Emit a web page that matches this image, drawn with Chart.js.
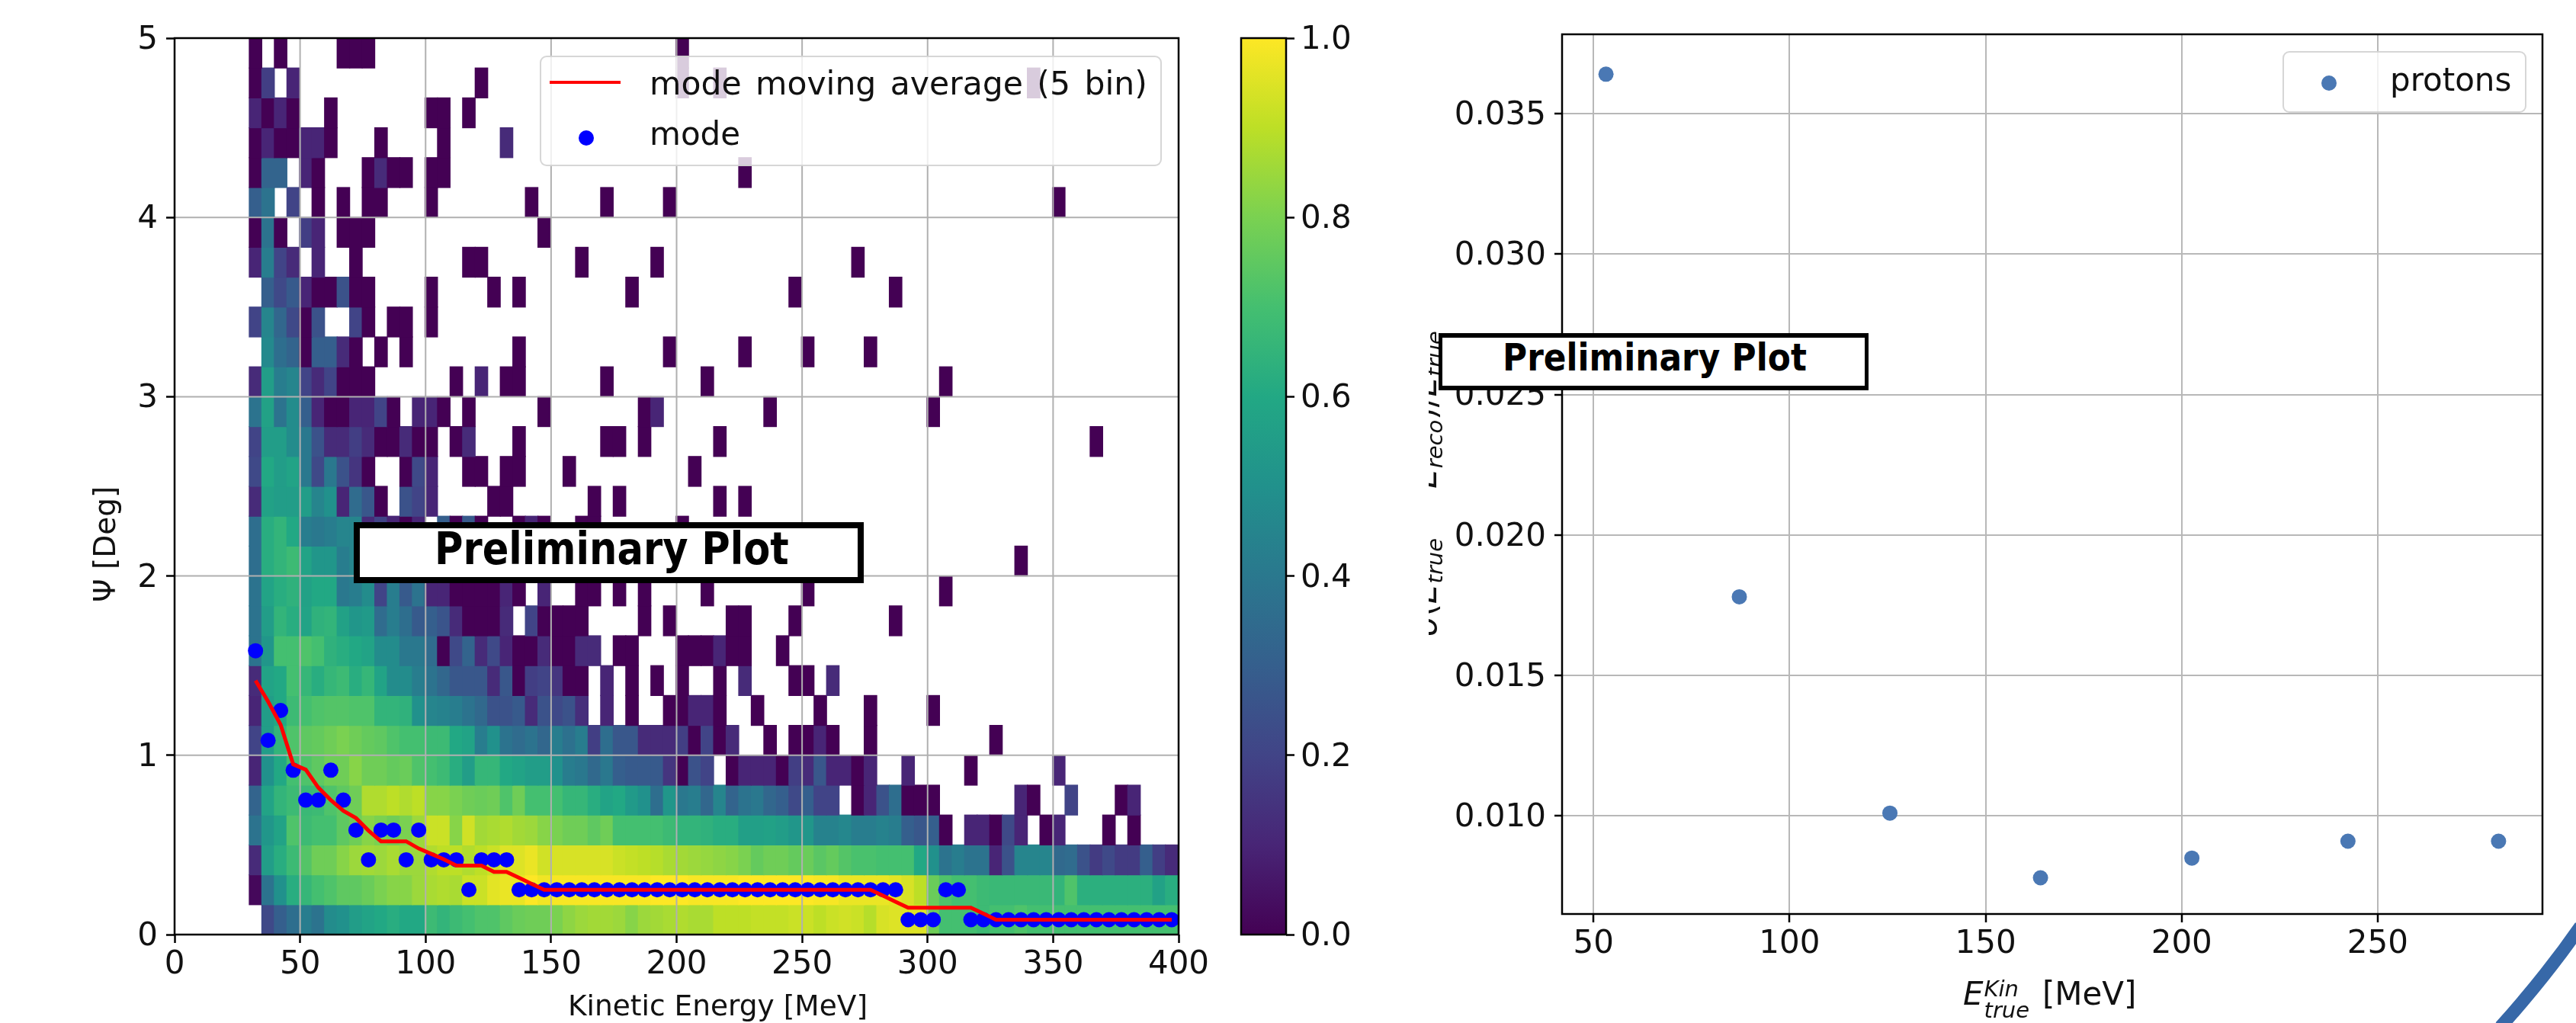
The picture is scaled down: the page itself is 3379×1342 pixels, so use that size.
<!DOCTYPE html>
<html>
<head>
<meta charset="utf-8">
<title>Preliminary Plot</title>
<script src="https://cdn.jsdelivr.net/npm/chart.js@4/dist/chart.umd.min.js"></script>
<style>
html, body { margin: 0; padding: 0; background: #fff; }
#page { position: relative; width: 3379px; height: 1342px; overflow: hidden; font-family: "DejaVu Sans", sans-serif; color: #000; }
canvas { position: absolute; top: 0; }
#grafico { left: 0; filter: blur(0.6px); }
#barra { left: 1600px; filter: blur(0.6px); }
#grafico2 { left: 1900px; }
.txt { position: absolute; white-space: nowrap; font-size: 42px; line-height: 50px; color: #111; }
.legenda { position: absolute; box-sizing: border-box; background: rgba(255,255,255,0.8); border: 2.5px solid rgba(204,204,204,0.8); border-radius: 9px; }
.ponto { position: absolute; border-radius: 50%; }
.aviso { position: absolute; box-sizing: border-box; background: #fff; border-style: solid; border-color: #000; }
.aviso span { position: absolute; white-space: nowrap; font-weight: bold; color: #000; transform-origin: 0 0; }
i sub, .txt sub { font-size: 29px; vertical-align: -8px; line-height: 0; }
#tituloY2 { position: absolute; left: 1874px; top: 380px; width: 30px; height: 480px; overflow: hidden; }
#tituloY2 div { position: absolute; white-space: nowrap; font-size: 42px; line-height: 50px; left: -29px; top: 455px; transform-origin: 0 0; transform: rotate(-90deg); color: #111; }
.menos { margin: 0 15px; }
.pilha { display: inline-block; position: relative; width: 64px; height: 10px; }
.pilha i { position: absolute; left: 1px; font-size: 29px; line-height: 30px; }
#arco { position: absolute; left: 0; top: 0; }
</style>
</head>
<body>
<div id="page">
    <canvas id="grafico" width="1600" height="1342"></canvas>
    <canvas id="barra" width="300" height="1342"></canvas>
    <canvas id="grafico2" width="1479" height="1342"></canvas>

    <div class="legenda" style="left:708px;top:73px;width:816px;height:145px"></div>
    <div style="position:absolute;left:721px;top:106px;width:93px;height:4px;background:#f00"></div>
    <div class="ponto" style="left:759px;top:171px;width:20px;height:20px;background:#00f"></div>
    <div class="txt" style="left:852px;top:85px;font-size:42.5px;word-spacing:5px">mode moving average (5 bin)</div>
    <div class="txt" style="left:852px;top:151px">mode</div>

    <div class="legenda" style="left:2994px;top:67px;width:320px;height:81px"></div>
    <div class="ponto" style="left:3045px;top:99px;width:20px;height:20px;background:#4a78b4"></div>
    <div class="txt" style="left:3135px;top:80px">protons</div>

    <div class="txt" style="left:745px;top:1294px;font-size:37.5px">Kinetic Energy [MeV]</div>
    <div class="txt" style="left:113px;top:790px;font-size:39px;transform-origin:0 0;transform:rotate(-90deg)">&Psi; [Deg]</div>

    <div class="txt" style="left:2575px;top:1279px"><i>E</i><span class="pilha"><i style="top:-26px">Kin</i><i style="top:2px">true</i></span> [MeV]</div>
    <div id="tituloY2"><div><i>&sigma;</i>(<i>E<sub>true</sub></i><span class="menos">&minus;</span><i>E<sub>reco</sub></i>)/<i>E<sub>true</sub></i></div></div>

    <div class="aviso" style="left:464px;top:685px;width:669px;height:80px;border-width:8px">
        <span style="left:98px;top:-8px;font-size:59px;line-height:70px;transform:scaleX(0.866)">Preliminary Plot</span>
    </div>
    <div class="aviso" style="left:1887px;top:437px;width:564px;height:75px;border-width:6px 5.5px">
        <span style="left:79px;top:-3px;font-size:49px;line-height:60px;transform:scaleX(0.895)">Preliminary Plot</span>
    </div>

    <svg id="arco" width="3379" height="1342"><path d="M 3385 1215 Q 3340 1280 3280 1347" fill="none" stroke="#3768a8" stroke-width="17"/></svg>
</div>

<script>
const _ = null;

// centro de cada bin de energia (MeV)
const energias = [32.25,37.25,42.25,47.25,52.25,57.25,62.25,67.25,72.25,77.25,
    82.25,87.25,92.25,97.25,102.25,107.25,112.25,117.25,122.25,127.25,
    132.25,137.25,142.25,147.25,152.25,157.25,162.25,167.25,172.25,177.25,
    182.25,187.25,192.25,197.25,202.25,207.25,212.25,217.25,222.25,227.25,
    232.25,237.25,242.25,247.25,252.25,257.25,262.25,267.25,272.25,277.25,
    282.25,287.25,292.25,297.25,302.25,307.25,312.25,317.25,322.25,327.25,
    332.25,337.25,342.25,347.25,352.25,357.25,362.25,367.25,372.25,377.25,
    382.25,387.25,392.25,397.25];

const alturaBinPsi = 5 / 30;

// valores do histograma, linha 0 = Psi mais baixo, grupos de 10 colunas
const linha00 = [_,.22,.3,.36,.42,.38,.48,.5,.55,.58, .6,.62,.6,.6,.68,.65,.68,.7,.72,.72, .75,.77,.78,.78,.8,.83,.85,.86,.86,.85, .82,.85,.86,.87,.88,.87,.87,.9,.9,.9, .91,.91,.91,.92,.92,.9,.92,.93,.92,.89, .94,.95,.95,.95,.78,.7,.7,.7,.68,.7, .7,.72,.7,.7,.7,.7,.7,.7,.7,.7, .7,.7,.7,.7];
const linha01 = [.02,.38,.5,.62,.66,.7,.72,.75,.75,.77, .8,.82,.82,.85,.87,.88,.87,.92,.92,.96, .97,.97,1,.98,.99,.99,.99,.99,.99,.99, .99,.99,1,1,1,.99,.99,.99,.99,1, 1,1,1,1,1,.99,.99,.97,.97,.97, .97,.96,.94,.9,.77,.72,.7,.7,.68,.67, .67,.67,.67,.67,.65,.72,.63,.63,.63,.63, .63,.63,.57,.62];
const linha02 = [.12,.55,.62,.68,.73,.78,.78,.82,.85,.86, .85,.87,.85,.85,.88,.9,.9,.88,.9,.92, .95,.95,.97,.93,.94,.94,.94,.94,.94,.92, .91,.9,.89,.87,.86,.85,.84,.83,.82,.8, .76,.78,.78,.76,.77,.74,.76,.73,.71,.71, .7,.7,.7,.6,.5,.38,.42,.38,.38,.1, .25,.45,.45,.45,.34,.35,.25,.17,.22,.17, .17,.3,.18,.12];
const linha03 = [.38,.52,.58,.72,.68,.7,.7,.75,.78,.82, .8,.78,.8,.85,.92,.92,.82,.93,.86,.87, .88,.86,.85,.82,.8,.78,.78,.75,.78,.7, .7,.7,.7,.68,.65,.65,.64,.62,.62,.56, .56,.57,.55,.52,.52,.44,.44,.46,.42,.42, .44,.42,.3,.27,.3,0,_,.1,.1,0, .22,.1,_,0,.1,_,_,_,0,_, 0];
const linha04 = [.32,.58,.65,.68,.67,.68,.72,.75,.78,.88, .88,.9,.88,.9,.82,.82,.8,.78,.77,.78, .72,.78,.7,.7,.7,.66,.66,.62,.58,.6, .54,.5,.36,.52,.4,.42,.33,.45,.32,.38, .4,.33,.3,.22,.3,.2,.2,_,0,.1, .25,.36,0,0,0,_,_,_,_,_, _,.1,0,_,_,.2,_,_,_,0, .1];
const linha05 = [.1,.5,.6,.7,.72,.75,.78,.78,.82,.78, .78,.76,.77,.72,.7,.68,.62,.55,.66,.66, .6,.58,.55,.55,.5,.42,.4,.34,.4,.3, .28,.28,.28,.15,0,.25,.2,_,0,.1, .1,.1,0,.18,.12,.27,.1,.1,0,.1, _,_,.1,_,_,_,_,0,_,_, _,_,_,_,.1];
const linha06 = [.2,.55,.65,.72,.75,.76,.78,.8,.78,.76, .75,.72,.7,.7,.68,.68,.6,.58,.42,.5, .38,.35,.38,.33,.42,.37,.42,.18,.36,.27, .27,.12,.12,.12,.18,0,.2,0,.12,_, _,0,_,0,0,.1,0,_,_,0, _,_,_,_,_,_,_,_,_,0];
const linha07 = [.1,.55,.6,.68,.7,.72,.73,.73,.72,.72, .65,.65,.64,.5,.45,.44,.42,.38,.34,.25, .25,.28,.12,.25,.22,.25,.13,_,.1,_, 0,_,_,0,0,.1,.1,0,_,_, 0,_,_,_,_,0,_,_,_,0, _,_,_,_,0];
const linha08 = [.12,.58,.6,.7,.66,.62,.66,.68,.62,.66, .58,.48,.48,.42,.38,.33,.27,.27,.27,.12, .27,0,.18,.2,.15,0,0,_,.1,_, 0,_,0,_,0,_,_,0,_,.12, _,_,_,0,0,_,.12];
const linha09 = [.38,.52,.7,.7,.72,.7,.64,.62,.6,.58, .48,.48,.4,.4,.35,0,.22,.32,.12,.22, .1,0,0,.12,0,0,.12,.12,_,0, 0,_,_,_,0,0,0,.1,0,0, _,_,0];
const linha10 = [.38,.55,.65,.62,.58,.64,.65,.57,.52,.54, .35,.42,.36,.28,.3,.26,.12,0,0,0, .12,_,.2,0,0,0,0,_,_,_, _,0,_,0,_,_,_,_,0,0, _,_,_,0,_,_,_,_,_,_, _,0];
const linha11 = [.38,.58,.62,.64,.57,.6,.6,.4,.42,.48, .2,.42,.28,.38,.1,.1,0,0,0,0, .1,0,_,.1,_,_,0,0,_,0, _,0,_,_,_,_,0,_,_,_, _,_,_,_,0,_,_,_,_,_, _,_,_,_,_,0];
const linha12 = [.36,.62,.65,.68,.58,.52,.52,.42,.45,_, _,_,_,_,_,_,_,_,_,_, _,_,_,_,_,_,_,_,_,_, _,_,_,_,_,_,_,_,_,_, _,_,_,_,_,_,_,_,_,_, _,_,_,_,_,_,_,_,_,_, _,0];
const linha13 = [.36,.62,.65,.6,.42,.4,.42,.45,.45,.12, .2,.1,0,.1,_,.3,0,.28,0,_, _,0,.1,0,_,_,0,0,_,_, _,_,_,_,0];
const linha14 = [.12,.57,.55,.55,.55,.45,.5,.1,.35,.27, 0,_,.25,.2,.1,_,_,_,_,0, 0,_,_,_,_,_,_,0,_,0, _,_,_,_,_,_,_,0,_,0];
const linha15 = [.22,.6,.55,.58,.4,.22,.4,.25,.15,0, _,_,0,.22,.1,_,_,0,0,_, 0,0,_,_,_,0,_,_,_,_, _,_,_,_,_,0];
const linha16 = [.2,.55,.55,.48,.4,.25,.12,.12,.18,.12, 0,0,.12,0,0,_,0,.12,_,_, _,0,_,_,_,_,_,_,0,0, _,0,_,_,_,_,_,0,_,_, _,_,_,_,_,_,_,_,_,_, _,_,_,_,_,_,_,_,_,_, _,_,_,_,_,_,_,0];
const linha17 = [.38,.57,.38,.48,.3,.1,0,0,.1,.1, .2,0,_,.1,.1,0,_,0,_,_, _,_,_,0,_,_,_,_,_,_, _,0,.1,_,_,_,_,_,_,_, _,0,_,_,_,_,_,_,_,_, _,_,_,_,0];
const linha18 = [.12,.55,.42,.45,.2,.12,.2,0,0,0, _,_,_,_,_,_,0,_,.1,_, 0,0,_,_,_,_,_,_,0,_, _,_,_,_,_,_,0,_,_,_, _,_,_,_,_,_,_,_,_,_, _,_,_,_,_,0];
const linha19 = [_,.47,.36,.32,0,.3,.3,.12,0,_, 0,_,0,_,_,_,_,_,_,_, _,0,_,_,_,_,_,_,_,_, _,_,_,0,_,_,_,_,_,0, _,_,_,_,0,_,_,_,_,0];
const linha20 = [.2,.45,.33,.22,0,.25,_,_,.2,0, _,0,0,_,0];
const linha21 = [_,.3,.22,.28,.1,0,0,.25,0,0, _,_,_,_,0,_,_,_,_,0, _,0,_,_,_,_,_,_,_,_, 0,_,_,_,_,_,_,_,_,_, _,_,_,0,_,_,_,_,_,_, _,0];
const linha22 = [.1,.42,.2,.12,_,.1,_,_,0,_, _,_,_,_,_,_,_,0,0,_, _,_,_,_,_,_,0,_,_,_, _,_,0,_,_,_,_,_,_,_, _,_,_,_,_,_,_,_,0];
const linha23 = [0,.38,0,_,.18,.1,_,0,0,0, _,_,_,_,_,_,_,_,_,_, _,_,_,0];
const linha24 = [.3,.38,_,.2,_,0,_,0,_,0, 0,_,_,_,0,_,_,_,_,_, _,_,0,_,_,_,_,_,0,_, _,_,_,0,_,_,_,_,_,_, _,_,_,_,_,_,_,_,_,_, _,_,_,_,_,_,_,_,_,_, _,_,_,_,0];
const linha25 = [0,.32,.32,_,.1,0,_,_,_,0, .12,0,0,_,0,0,_,_,_,_, _,_,_,_,_,_,_,_,_,_, _,_,_,_,_,_,_,_,_,0];
const linha26 = [0,.1,0,0,.1,.1,0,_,_,_, 0,_,_,_,_,0,_,_,_,_, .12];
const linha27 = [.1,0,.1,0,_,_,0,_,_,_, _,_,_,_,0,0,_,0];
const linha28 = [0,.18,_,.1,_,_,_,_,_,_, _,_,_,_,_,_,_,_,0,_, _,_,_,_,_,_,_,_,_,_, _,_,_,_,0,_,_,0,_,_, _,_,_,_,_,_,_,_,_,_, _,_,_,_,_,_,_,_,_,_, _,_,0];
const linha29 = [0,_,0,_,_,_,_,0,0,0, _,_,_,_,_,_,_,_,_,_, _,_,_,_,_,_,_,_,_,_, _,_,_,_,0];

const linhas = [linha00,linha01,linha02,linha03,linha04,linha05,linha06,linha07,linha08,linha09,
    linha10,linha11,linha12,linha13,linha14,linha15,linha16,linha17,linha18,linha19,
    linha20,linha21,linha22,linha23,linha24,linha25,linha26,linha27,linha28,linha29];

// moda de cada bin e a media movel
const moda = [1.583,1.083,1.25,.917,.75,.75,.917,.75,.583,.417,
    .583,.583,.417,.583,.417,.417,.417,.25,.417,.417,
    .417,.25,.25,.25,.25,.25,.25,.25,.25,.25,
    .25,.25,.25,.25,.25,.25,.25,.25,.25,.25,
    .25,.25,.25,.25,.25,.25,.25,.25,.25,.25,
    .25,.25,.083,.083,.083,.25,.25,.083,.083,.083,
    .083,.083,.083,.083,.083,.083,.083,.083,.083,.083,
    .083,.083,.083,.083];
const mediaMovel = [1.417,1.3,1.17,.95,.92,.82,.75,.69,.65,.58,
    .52,.52,.52,.48,.45,.42,.385,.385,.385,.35,
    .35,.317,.283,.25,.25,.25,.25,.25,.25,.25,
    .25,.25,.25,.25,.25,.25,.25,.25,.25,.25,
    .25,.25,.25,.25,.25,.25,.25,.25,.25,.25,
    .217,.183,.15,.15,.15,.15,.15,.15,.117,.083,
    .083,.083,.083,.083,.083,.083,.083,.083,.083,.083,
    .083,.083,.083,.083];

// painel da direita
const energiaProtons = [53.2, 87.2, 125.6, 164, 202.6, 242.4, 280.8];
const resolucaoProtons = [.0364, .0178, .0101, .0078, .0085, .0091, .0091];
const ticksEnergiaProtons = [50, 100, 150, 200, 250];

const viridis = ['#440154','#482576','#414487','#355f8d','#2a788e','#21918c','#22a884','#44bf70','#7ad151','#bddf26','#fde725'];

function corViridis(v) {
    const p = Math.min(v, 1) * (viridis.length - 1);
    const i = Math.min(Math.floor(p), viridis.length - 2);
    const f = p - i;
    const a = viridis[i], b = viridis[i + 1];
    let saida = [];
    for (let k = 1; k < 7; k += 2) {
        const ca = parseInt(a.substr(k, 2), 16), cb = parseInt(b.substr(k, 2), 16);
        saida.push(Math.round(ca + (cb - ca) * f));
    }
    return 'rgb(' + saida.join(',') + ')';
}

function montarCelulas() {
    const celulas = [];
    for (let r = 0; r < linhas.length; r++) {
        for (let c = 0; c < linhas[r].length; c++) {
            if (linhas[r][c] !== null) {
                celulas.push({ x: energias[c], y: [r * alturaBinPsi, (r + 1) * alturaBinPsi], v: linhas[r][c] });
            }
        }
    }
    return celulas;
}

function juntar(xs, ys) {
    return xs.map(function (x, i) { return { x: x, y: ys[i] }; });
}

const fonteTicks = { family: 'DejaVu Sans', size: 42 };

// tira a margem extra dos rotulos para a area do grafico ficar exata
function fixarEixo(tamanho) {
    return function (eixo) {
        if (eixo.isHorizontal()) {
            eixo.height = tamanho;
        } else {
            eixo.width = tamanho;
            // o "middle" do canvas fica um pouco alto, desce os rotulos do eixo y
            if (!eixo.rotuloAjustado) {
                const desenhar = eixo.drawLabels;
                eixo.drawLabels = function (area) {
                    eixo.ctx.save();
                    eixo.ctx.translate(0, 3);
                    desenhar.call(eixo, area);
                    eixo.ctx.restore();
                };
                eixo.rotuloAjustado = true;
            }
        }
        eixo.paddingTop = 0; eixo.paddingBottom = 0; eixo.paddingLeft = 0; eixo.paddingRight = 0;
    };
}

// moldura preta nos quatro lados
const moldura = {
    id: 'moldura',
    afterDatasetsDraw: function (chart) {
        const a = chart.chartArea, ctx = chart.ctx;
        ctx.save();
        ctx.strokeStyle = '#000';
        ctx.lineWidth = 2.5;
        ctx.strokeRect(a.left, a.top, a.right - a.left, a.bottom - a.top);
        ctx.restore();
    }
};

// grade por cima do histograma e por baixo dos pontos
const gradeSobreHist = {
    id: 'gradeSobreHist',
    afterDatasetDraw: function (chart, args) {
        if (args.index !== 0) return;
        const a = chart.chartArea, ctx = chart.ctx;
        ctx.save();
        ctx.strokeStyle = '#b0b0b0';
        ctx.lineWidth = 2;
        chart.scales.x.ticks.forEach(function (t) {
            const px = chart.scales.x.getPixelForValue(t.value);
            ctx.beginPath(); ctx.moveTo(px, a.top); ctx.lineTo(px, a.bottom); ctx.stroke();
        });
        chart.scales.y.ticks.forEach(function (t) {
            const py = chart.scales.y.getPixelForValue(t.value);
            ctx.beginPath(); ctx.moveTo(a.left, py); ctx.lineTo(a.right, py); ctx.stroke();
        });
        ctx.restore();
    }
};

new Chart(document.getElementById('grafico'), {
    type: 'bar',
    data: {
        datasets: [{
            label: 'hist',
            data: montarCelulas(),
            order: 3,
            grouped: false,
            barPercentage: 1,
            categoryPercentage: 1,
            borderWidth: 0,
            inflateAmount: 0.6,
            backgroundColor: function (c) { return c.raw ? corViridis(c.raw.v) : '#fff'; }
        }, {
            type: 'scatter',
            label: 'mode',
            data: juntar(energias, moda),
            order: 2,
            pointRadius: 10,
            pointBackgroundColor: '#00f',
            pointBorderWidth: 0
        }, {
            type: 'line',
            label: 'mode moving average (5 bin)',
            data: juntar(energias, mediaMovel),
            order: 1,
            borderColor: '#f00',
            borderWidth: 5,
            pointRadius: 0,
            tension: 0
        }]
    },
    options: {
        responsive: false,
        animation: false,
        layout: { padding: { left: 0, top: 50, right: 54, bottom: 0 } },
        plugins: { legend: { display: false }, tooltip: { enabled: false } },
        scales: {
            x: {
                type: 'linear', min: 0, max: 400, offset: false,
                afterFit: fixarEixo(116),
                border: { display: false },
                grid: { drawOnChartArea: false, offset: false, tickColor: '#000', tickLength: 11, tickWidth: 2.5 },
                ticks: { stepSize: 50, color: '#111', font: fonteTicks, padding: 4, maxRotation: 0 }
            },
            y: {
                type: 'linear', min: 0, max: 5,
                afterFit: fixarEixo(229),
                border: { display: false },
                grid: { drawOnChartArea: false, tickColor: '#000', tickLength: 11, tickWidth: 2.5 },
                ticks: { stepSize: 1, color: '#111', font: fonteTicks, padding: 11 }
            }
        }
    },
    plugins: [gradeSobreHist, moldura]
});

const faixaBarra = [0, 1];
const ticksBarra = ['0.0', '0.2', '0.4', '0.6', '0.8', '1.0'];

new Chart(document.getElementById('barra'), {
    type: 'bar',
    data: {
        labels: [''],
        datasets: [{
            data: [faixaBarra],
            barPercentage: 1,
            categoryPercentage: 1,
            borderWidth: 0,
            backgroundColor: function (c) {
                const a = c.chart.chartArea;
                if (!a) return '#21918c';
                const g = c.chart.ctx.createLinearGradient(0, a.bottom, 0, a.top);
                viridis.forEach(function (cor, i) { g.addColorStop(i / (viridis.length - 1), cor); });
                return g;
            }
        }]
    },
    options: {
        responsive: false,
        animation: false,
        layout: { padding: { left: 28, top: 50, right: 0, bottom: 116 } },
        plugins: { legend: { display: false }, tooltip: { enabled: false } },
        scales: {
            x: { display: false },
            y: {
                position: 'right', min: 0, max: 1,
                afterFit: fixarEixo(213),
                border: { display: false },
                grid: { drawOnChartArea: false, tickColor: '#000', tickLength: 11, tickWidth: 2.5 },
                ticks: {
                    stepSize: 0.2, color: '#111', font: fonteTicks, padding: 8,
                    callback: function (v, i) { return ticksBarra[i]; }
                }
            }
        }
    },
    plugins: [moldura]
});

new Chart(document.getElementById('grafico2'), {
    type: 'scatter',
    data: {
        datasets: [{
            label: 'protons',
            data: juntar(energiaProtons, resolucaoProtons),
            pointRadius: 10,
            pointBackgroundColor: '#4a78b4',
            pointBorderWidth: 0
        }]
    },
    options: {
        responsive: false,
        animation: false,
        layout: { padding: { left: 0, top: 45, right: 44, bottom: 0 } },
        plugins: { legend: { display: false }, tooltip: { enabled: false } },
        scales: {
            x: {
                type: 'linear', min: 42, max: 292,
                afterFit: fixarEixo(143),
                afterBuildTicks: function (eixo) {
                    eixo.ticks = ticksEnergiaProtons.map(function (v) { return { value: v }; });
                },
                border: { display: false },
                grid: { color: '#b8b8b8', lineWidth: 2, tickColor: '#000', tickLength: 11, tickWidth: 2.5 },
                ticks: { color: '#111', font: fonteTicks, padding: 4, maxRotation: 0 }
            },
            y: {
                type: 'linear', min: 0.00651, max: 0.03782,
                afterFit: fixarEixo(149),
                border: { display: false },
                grid: { color: '#b8b8b8', lineWidth: 2, tickColor: '#000', tickLength: 10, tickWidth: 2.5 },
                ticks: {
                    stepSize: 0.005, includeBounds: false, color: '#111', font: fonteTicks, padding: 11,
                    callback: function (v) { return v.toFixed(3); }
                }
            }
        }
    },
    plugins: [moldura]
});
</script>
</body>
</html>
